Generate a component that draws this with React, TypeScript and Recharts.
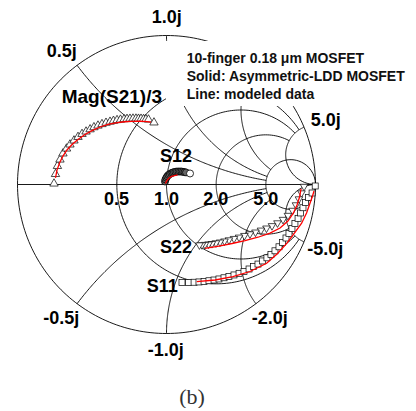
import React from "react";
import { ScatterChart, Scatter, XAxis, YAxis, Customized } from "recharts";

// reflection coefficients, [re, im]
const s11Measured: [number, number][] = [
  [0.104, -0.658], [0.148, -0.658], [0.185, -0.656], [0.218, -0.654], [0.252, -0.651],
  [0.285, -0.646], [0.319, -0.641], [0.352, -0.634], [0.386, -0.626], [0.419, -0.617],
  [0.453, -0.607], [0.487, -0.596], [0.52, -0.583], [0.554, -0.567], [0.584, -0.551],
  [0.614, -0.534], [0.644, -0.513], [0.674, -0.492], [0.701, -0.47], [0.728, -0.445],
  [0.755, -0.418], [0.779, -0.389], [0.802, -0.359], [0.822, -0.328], [0.842, -0.295],
  [0.862, -0.262], [0.883, -0.227], [0.899, -0.191], [0.916, -0.156], [0.933, -0.121],
  [0.953, -0.087], [0.977, -0.057], [0.998, -0.01],
];
const s11Model: [number, number][] = [
  [0.203, -0.652], [0.326, -0.641], [0.446, -0.619], [0.56, -0.584], [0.672, -0.529],
  [0.742, -0.466], [0.807, -0.395], [0.856, -0.329], [0.907, -0.26], [0.94, -0.191],
  [0.963, -0.126], [0.98, -0.077], [0.99, -0.044],
];

const s22Measured: [number, number][] = [
  [0.923, -0.02], [0.906, -0.064], [0.889, -0.104], [0.869, -0.144], [0.846, -0.181],
  [0.815, -0.215], [0.782, -0.242], [0.745, -0.265], [0.708, -0.284], [0.671, -0.3],
  [0.634, -0.314], [0.597, -0.327], [0.56, -0.339], [0.523, -0.35], [0.487, -0.361],
  [0.453, -0.37], [0.419, -0.379], [0.389, -0.387], [0.359, -0.394], [0.332, -0.399],
  [0.305, -0.404], [0.282, -0.407], [0.258, -0.41], [0.238, -0.412], [0.221, -0.413],
];
const s22Model: [number, number][] = [
  [0.903, -0.03], [0.893, -0.084], [0.876, -0.138], [0.852, -0.191], [0.815, -0.245],
  [0.762, -0.292], [0.695, -0.326], [0.614, -0.354], [0.527, -0.377], [0.44, -0.396],
  [0.352, -0.413], [0.258, -0.428],
];

const s12Measured: [number, number][] = [
  [-0.01, 0.02], [-0.007, 0.034], [-0.001, 0.045], [0.005, 0.055], [0.013, 0.064],
  [0.022, 0.07], [0.032, 0.076], [0.041, 0.08], [0.05, 0.083], [0.06, 0.085],
  [0.07, 0.087], [0.081, 0.087], [0.091, 0.087], [0.101, 0.087], [0.111, 0.085],
  [0.121, 0.083], [0.131, 0.081], [0.158, 0.074],
];
const s12Model: [number, number][] = [
  [-0.007, 0.007], [0.003, 0.027], [0.017, 0.044], [0.034, 0.054], [0.054, 0.06], [0.074, 0.064],
];

// Mag(S21)/3
const s21Measured: [number, number][] = [
  [-0.755, 0.013], [-0.745, 0.077], [-0.732, 0.131], [-0.715, 0.174], [-0.695, 0.215],
  [-0.671, 0.248], [-0.648, 0.275], [-0.621, 0.302], [-0.594, 0.326], [-0.567, 0.346],
  [-0.54, 0.362], [-0.513, 0.377], [-0.487, 0.391], [-0.46, 0.402], [-0.433, 0.412],
  [-0.406, 0.421], [-0.379, 0.428], [-0.356, 0.434], [-0.332, 0.439], [-0.309, 0.442],
  [-0.285, 0.445], [-0.265, 0.447], [-0.245, 0.448], [-0.225, 0.449], [-0.205, 0.449],
  [-0.188, 0.448], [-0.171, 0.448], [-0.154, 0.446], [-0.138, 0.445], [-0.121, 0.443],
  [-0.084, 0.423],
];
const s21Model: [number, number][] = [
  [-0.745, 0.044], [-0.735, 0.097], [-0.718, 0.144], [-0.695, 0.191], [-0.668, 0.232],
  [-0.634, 0.268], [-0.594, 0.302], [-0.547, 0.336], [-0.5, 0.362], [-0.446, 0.386],
  [-0.393, 0.403], [-0.339, 0.414], [-0.285, 0.421], [-0.232, 0.424], [-0.178, 0.425],
  [-0.131, 0.422], [-0.104, 0.419],
];

// grid: resistance circles (drawn up to |x| = reach) and reactance arcs (drawn up to r = reach)
const rCircles = [0.5, 1, 2, 5];
const rCircleReach = [5, 5, 5, Infinity];
const xArcs = [0.5, 1, 2, 5];
const xArcReach = [5, 5, 5, Infinity];

const toPts = (d: [number, number][]) => d.map(([re, im]) => ({ re, im }));

const gamma = (r: number, x: number) => {
  const den = (r + 1) * (r + 1) + x * x;
  return { re: (r * r - 1 + x * x) / den, im: (2 * x) / den };
};

const resistanceCircle = (r: number, reach: number) => {
  const lim = Math.atan(reach);
  return Array.from({ length: 241 }, (_, i) => gamma(r, Math.tan(-lim + (2 * lim * i) / 240)));
};

const reactanceArc = (x: number, reach: number) => {
  const lim = Math.atan(reach);
  return Array.from({ length: 161 }, (_, i) => gamma(Math.tan((lim * i) / 160), x));
};

const gridCurves = [
  resistanceCircle(0, Infinity),
  [{ re: -1, im: 0 }, { re: 1, im: 0 }],
  ...rCircles.map((r, i) => resistanceCircle(r, rCircleReach[i])),
  ...xArcs.map((x, i) => reactanceArc(x, xArcReach[i])),
  ...xArcs.map((x, i) => reactanceArc(-x, xArcReach[i])),
];

const noDot = () => <g />;

const triUp = (p: any) => (
  <polygon
    points={`${p.cx},${p.cy - 3.8} ${p.cx + 4.2},${p.cy + 3.5} ${p.cx - 4.2},${p.cy + 3.5}`}
    fill="#fff"
    stroke="#000"
    strokeWidth={0.7}
  />
);
const triDown = (p: any) => (
  <polygon
    points={`${p.cx - 3.8},${p.cy - 3.2} ${p.cx + 3.8},${p.cy - 3.2} ${p.cx},${p.cy + 3.4}`}
    fill="#fff"
    stroke="#000"
    strokeWidth={0.7}
  />
);
const square = (p: any) => (
  <rect x={p.cx - 3} y={p.cy - 3} width={6} height={6} fill="#fff" stroke="#000" strokeWidth={0.7} />
);
const lastS12 = s12Measured[s12Measured.length - 1];
const ring = (p: any) => {
  const isLast = p.payload && p.payload.re === lastS12[0] && p.payload.im === lastS12[1];
  return (
    <circle cx={p.cx} cy={p.cy} r={3.5} fill={isLast ? "#fff" : "#666"} stroke="#000" strokeWidth={0.8} />
  );
};

const modelLine = { stroke: "#ff0000", strokeWidth: 1.3 };

const ChartText = () => (
  <g>
    <g fontFamily="'Liberation Sans', Arial, Helvetica, sans-serif" fontWeight="bold" fontSize={18} fill="#000">
      <text x={143.7} y={15.3}>1.0j</text>
      <text x={38.7} y={48.7}>0.5j</text>
      <text x={302.7} y={117.5}>5.0j</text>
      <text x={299.3} y={246.5}>-5.0j</text>
      <text x={243.7} y={316}>-2.0j</text>
      <text x={139.7} y={347.5}>-1.0j</text>
      <text x={35.3} y={316}>-0.5j</text>
      <text x={96} y={197}>0.5</text>
      <text x={146} y={197}>1.0</text>
      <text x={195.3} y={197}>2.0</text>
      <text x={245.3} y={197}>5.0</text>
      <text x={53.7} y={95.3} fontSize={19}>Mag(S21)/3</text>
      <text x={152} y={153.7}>S12</text>
      <text x={152} y={245.3}>S22</text>
      <text x={138.7} y={283.7}>S11</text>
    </g>
    <text x={171.3} y={396} fontFamily="'Liberation Serif', 'Times New Roman', serif" fontSize={22} fill="#333">
      (b)
    </text>
  </g>
);

export default function App() {
  return (
    <div style={{ position: "relative", width: 408, height: 400 }}>
      <ScatterChart width={408} height={400} margin={{ top: 27.5, right: 100.5, bottom: 74.5, left: 9.5 }}>
        <XAxis type="number" dataKey="re" domain={[-1, 1]} hide />
        <YAxis type="number" dataKey="im" domain={[-1, 1]} hide />
        {gridCurves.map((pts, i) => (
          <Scatter
            key={`grid-${i}`}
            data={pts}
            line={{ stroke: "#000", strokeWidth: 0.9 }}
            shape={noDot}
            isAnimationActive={false}
          />
        ))}
        <Scatter data={toPts(s21Measured)} shape={triUp} isAnimationActive={false} />
        <Scatter data={toPts(s12Measured)} shape={ring} isAnimationActive={false} />
        <Scatter data={toPts(s22Measured)} shape={triDown} isAnimationActive={false} />
        <Scatter data={toPts(s11Measured)} shape={square} isAnimationActive={false} />
        <Scatter data={toPts(s21Model)} line={modelLine} shape={noDot} isAnimationActive={false} />
        <Scatter data={toPts(s12Model)} line={modelLine} shape={noDot} isAnimationActive={false} />
        <Scatter data={toPts(s22Model)} line={modelLine} shape={noDot} isAnimationActive={false} />
        <Scatter data={toPts(s11Model)} line={modelLine} shape={noDot} isAnimationActive={false} />
        <Customized component={<ChartText />} />
      </ScatterChart>
      <div
        style={{
          position: "absolute",
          left: 158,
          top: 33,
          width: 250,
          height: 65,
          background: "#fff",
          boxSizing: "border-box",
          paddingLeft: 20.7,
          paddingTop: 7.7,
          fontFamily: "'Liberation Sans', Arial, Helvetica, sans-serif",
          fontWeight: "bold",
          fontSize: 14,
          lineHeight: "18.3px",
          color: "#111",
          whiteSpace: "nowrap",
        }}
      >
        <div>10-finger 0.18 μm MOSFET</div>
        <div>Solid: Asymmetric-LDD MOSFET</div>
        <div>Line: modeled data</div>
      </div>
    </div>
  );
}
